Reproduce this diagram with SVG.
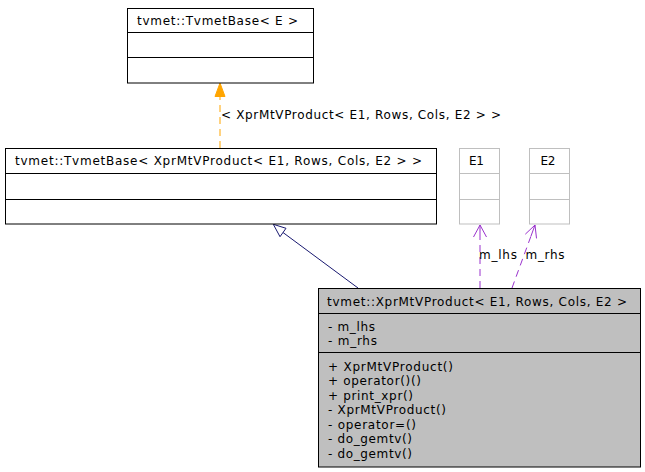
<svg xmlns="http://www.w3.org/2000/svg" width="645" height="472" viewBox="0 0 645 472">
<style>
text{font-family:"DejaVu Sans","Liberation Sans",sans-serif;font-size:12px;fill:#000}
.box{fill:#fff;stroke:#000;stroke-width:1}
.gbox{fill:#fff;stroke:#bfbfbf;stroke-width:1}
.mbox{fill:#bfbfbf;stroke:#000;stroke-width:1}
.div{stroke:#000;stroke-width:1}
.gdiv{stroke:#bfbfbf;stroke-width:1}
.orange{stroke:#ffa500;fill:none;stroke-dasharray:7,5}
.purple{stroke:#9a32cd;fill:none;stroke-dasharray:7,5}
.inh{stroke:#191970;fill:none}
</style>
<rect width="645" height="472" fill="#fff"/>
<g id="connectors">
<line class="orange" x1="220" y1="148" x2="220" y2="96"/>
<polygon points="220,83 215,96.5 225,96.5" fill="#ffa500" stroke="#ffa500"/>
<text x="221" y="119" textLength="280" lengthAdjust="spacing">&lt; XprMtVProduct&lt; E1, Rows, Cols, E2 &gt; &gt;</text>
<line class="inh" x1="358" y1="288" x2="283" y2="232.5"/>
<polygon points="273.3,224.3 280,236.7 286,228.3" fill="#fff" stroke="#191970"/>
<line class="purple" x1="480" y1="288" x2="480" y2="237"/>
<polyline points="473.5,237 480,225 486.5,237" fill="none" stroke="#9a32cd"/>
<line x1="480" y1="237" x2="480" y2="225" stroke="#9a32cd"/>
<text x="479" y="259" textLength="38" lengthAdjust="spacing">m_lhs</text>
<line class="purple" x1="512" y1="288" x2="531" y2="236"/>
<polyline points="525.3,234.2 535,225 536.5,238.4" fill="none" stroke="#9a32cd"/>
<line x1="531" y1="236" x2="535" y2="225" stroke="#9a32cd"/>
<text x="525.5" y="259" textLength="39" lengthAdjust="spacing">m_rhs</text>
</g>
<g id="node-tvmetbase-e">
<rect class="box" x="127.5" y="8.5" width="186" height="74.5"/>
<line class="div" x1="127.5" y1="32.5" x2="313.5" y2="32.5"/>
<line class="div" x1="127.5" y1="57.5" x2="313.5" y2="57.5"/>
<text x="137" y="25" textLength="161" lengthAdjust="spacing">tvmet::TvmetBase&lt; E &gt;</text>
</g>
<g id="node-tvmetbase-xpr">
<rect class="box" x="5.5" y="148.5" width="431" height="75.5"/>
<line class="div" x1="5.5" y1="173.5" x2="436.5" y2="173.5"/>
<line class="div" x1="5.5" y1="199.5" x2="436.5" y2="199.5"/>
<text x="15" y="165" textLength="407" lengthAdjust="spacing">tvmet::TvmetBase&lt; XprMtVProduct&lt; E1, Rows, Cols, E2 &gt; &gt;</text>
</g>
<g id="node-e1">
<rect class="gbox" x="459.5" y="148.5" width="40" height="75.5"/>
<line class="gdiv" x1="459.5" y1="173.5" x2="499.5" y2="173.5"/>
<line class="gdiv" x1="459.5" y1="199.5" x2="499.5" y2="199.5"/>
<text x="469" y="165" textLength="15" lengthAdjust="spacing">E1</text>
</g>
<g id="node-e2">
<rect class="gbox" x="529.5" y="148.5" width="40" height="75.5"/>
<line class="gdiv" x1="529.5" y1="173.5" x2="569.5" y2="173.5"/>
<line class="gdiv" x1="529.5" y1="199.5" x2="569.5" y2="199.5"/>
<text x="540.5" y="165" textLength="15" lengthAdjust="spacing">E2</text>
</g>
<g id="node-xprmtvproduct">
<rect class="mbox" x="318.5" y="288.5" width="322" height="178.5"/>
<line class="div" x1="318.5" y1="313.5" x2="640.5" y2="313.5"/>
<line class="div" x1="318.5" y1="352.5" x2="640.5" y2="352.5"/>
<text x="327" y="306" textLength="300" lengthAdjust="spacing">tvmet::XprMtVProduct&lt; E1, Rows, Cols, E2 &gt;</text>
<text x="328" y="330.5" textLength="47" lengthAdjust="spacing">- m_lhs</text>
<text x="328" y="345" textLength="49" lengthAdjust="spacing">- m_rhs</text>
<text x="328" y="370.5" textLength="125" lengthAdjust="spacing">+ XprMtVProduct()</text>
<text x="328" y="385" textLength="93" lengthAdjust="spacing">+ operator()()</text>
<text x="328" y="399.5" textLength="85" lengthAdjust="spacing">+ print_xpr()</text>
<text x="328" y="414" textLength="118" lengthAdjust="spacing">- XprMtVProduct()</text>
<text x="328" y="428.5" textLength="88" lengthAdjust="spacing">- operator=()</text>
<text x="328" y="443" textLength="84" lengthAdjust="spacing">- do_gemtv()</text>
<text x="328" y="457.5" textLength="84" lengthAdjust="spacing">- do_gemtv()</text>
</g>
</svg>
